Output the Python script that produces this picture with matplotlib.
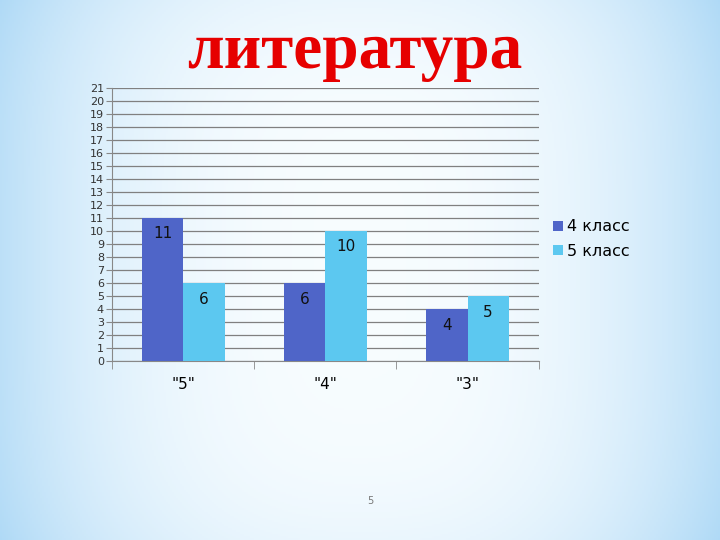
import matplotlib
matplotlib.use('Agg')
import matplotlib.pyplot as plt
import numpy as np

TITLE = "литература"
categories = ['"5"', '"4"', '"3"']
series_names = ["4 класс", "5 класс"]
class4 = [11, 6, 4]
class5 = [6, 10, 5]
page_number = "5"

COLORS = ["#4f65c8", "#5cc8f0"]

fig = plt.figure(figsize=(7.2, 5.4), dpi=100)

# slide background: pale blue at the sides, white towards the middle
bg = fig.add_axes([0, 0, 1, 1], zorder=-10)
xx, yy = np.meshgrid(np.linspace(-1, 1, 360), np.linspace(-1, 1, 270))
f = np.clip(np.abs(xx) ** 2.5 * 0.7 + np.abs(yy) ** 4 * 0.15, 0, 1)
edge = np.array([0.64, 0.83, 0.96])
white = np.array([0.97, 0.99, 1.0])
img = white[None, None, :] * (1 - f[..., None]) + edge[None, None, :] * f[..., None]
bg.imshow(img, aspect='auto', extent=[0, 1, 0, 1])
bg.set_axis_off()

ax = fig.add_axes([0.156, 0.331, 0.592, 0.506])
ax.patch.set_visible(False)

x = np.arange(len(categories))
w = 0.29
bars1 = ax.bar(x - w / 2, class4, w, color=COLORS[0], label=series_names[0], zorder=3)
bars2 = ax.bar(x + w / 2, class5, w, color=COLORS[1], label=series_names[1], zorder=3)

for bars in (bars1, bars2):
    for b in bars:
        h = b.get_height()
        ax.annotate(str(int(h)), (b.get_x() + b.get_width() / 2, h),
                    xytext=(0, -6), textcoords='offset points',
                    ha='center', va='top', fontsize=11, color='#111111', zorder=4)

ax.set_xlim(-0.5, len(categories) - 0.5)
ax.set_ylim(0, 21)
ax.set_yticks(range(0, 22))
ax.tick_params(axis='y', labelsize=8, length=4, color='#888888', labelcolor='#333333', pad=2)
ax.yaxis.grid(True, color='#808080', linewidth=0.9, zorder=0)

ax.set_xticks(x)
ax.set_xticklabels(categories, fontsize=11)
ax.tick_params(axis='x', length=0, pad=11)
ax.set_xticks(np.arange(-0.5, len(categories)), minor=True)
ax.tick_params(axis='x', which='minor', length=6, color='#888888', direction='out')

for side in ('top', 'right'):
    ax.spines[side].set_visible(False)
for side in ('left', 'bottom'):
    ax.spines[side].set_color('#888888')

ax.legend(loc='center left', bbox_to_anchor=(1.0, 0.447), frameon=False,
          fontsize=11.5, handlelength=0.6, handleheight=0.6, handletextpad=0.3,
          labelspacing=0.6)

fig.text(0.493, 0.903, TITLE, ha='center', va='center', fontsize=47,
         family='Liberation Serif', weight='bold', color='#e60000')
fig.text(0.515, 0.073, page_number, ha='center', va='center', fontsize=7, color='#777777')

fig.savefig("out.png", dpi=100)
